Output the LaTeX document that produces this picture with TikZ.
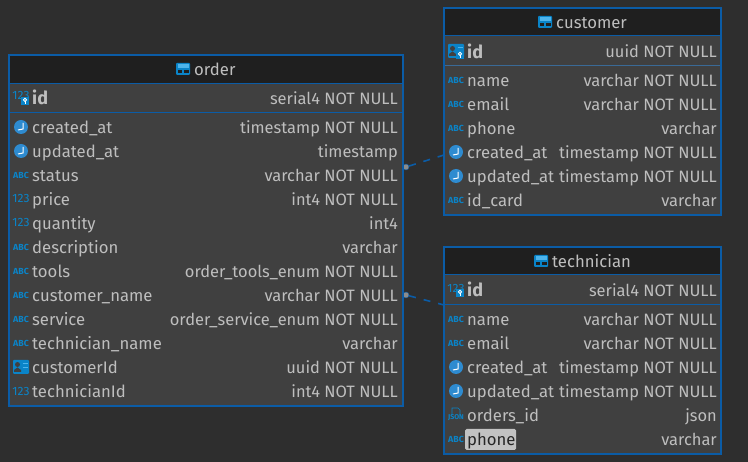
\documentclass[tikz,border=0pt]{standalone}
\usepackage{fontspec}
\setmainfont{Fira Sans}
\definecolor{bgc}{HTML}{2E2E2E}
\definecolor{bodyc}{HTML}{404040}
\definecolor{headc}{HTML}{1F1F1F}
\definecolor{edgec}{HTML}{0B5CA6}
\definecolor{txt}{HTML}{BEBEBE}
\definecolor{icon}{HTML}{0A84C8}
\definecolor{clockc}{HTML}{2E8BD0}
\definecolor{lighticon}{HTML}{4DB4EC}
\definecolor{hl}{HTML}{C2C2C2}
\tikzset{
  tbl/.style={draw=edgec,line width=2pt,fill=bodyc,inner sep=0pt,anchor=north west},
  headbar/.style={fill=headc},
  sep/.style={draw=edgec,line width=1pt},
  lab/.style={text=txt,font=\fontsize{16.7}{16.7}\selectfont,inner sep=0pt,anchor=base west,yshift=-0.7pt},
  pk/.style={lab,font=\fontsize{18}{18}\selectfont\bfseries},
  typ/.style={lab,anchor=base east,font=\fontsize{16.45}{16.45}\selectfont},
  ttl/.style={lab,anchor=base west},
  abc/.style={text=icon,inner sep=0pt,font=\fontsize{8.8}{8.8}\selectfont\bfseries},
  onetwo/.style={text=icon,inner sep=0pt,font=\fontsize{12}{12}\selectfont},
  rel/.style={draw=edgec,line width=1.6pt,dash pattern=on 7pt off 8pt},
  dot/.style={circle,fill=gray!90,draw=edgec,line width=.4pt,inner sep=0pt,minimum size=6pt}
}
\newcommand{\iconAbc}[2]{\node[abc] at (#1,#2) {ABC};}
\newcommand{\iconNum}[2]{\node[onetwo] at (#1,#2) {123};}
\newcommand{\iconClock}[2]{\fill[clockc] (#1,#2) circle[radius=7];
  \draw[white,line width=1pt] (#1+2,#2-4) -- (#1+2,#2+2) -- (#1-3,#2+3);}
\newcommand{\iconKey}[2]{\fill[icon] (#1-4,#2-4) rectangle (#1+4,#2+4);
  \draw[white,line width=.9pt] (#1,#2-1.2) circle[radius=1.6];
  \draw[white,line width=.9pt] (#1,#2+.5) -- (#1,#2+3);}
\newcommand{\iconTable}[2]{\fill[icon,rounded corners=1pt] (#1-7,#2-6) rectangle (#1+7,#2+6);
  \fill[lighticon] (#1-5.5,#2-4.5) rectangle (#1+5.5,#2-.8);
  \fill[headc] (#1-5.5,#2+.8) rectangle (#1-.7,#2+4.5);
  \fill[headc] (#1+.7,#2+.8) rectangle (#1+5.5,#2+4.5);}
\newcommand{\iconCard}[2]{\fill[icon,rounded corners=1pt] (#1-8,#2-7) rectangle (#1+8,#2+7);
  \fill[bodyc] (#1-3.5,#2-2.5) circle[radius=2.5];
  \fill[bodyc] (#1-7,#2+5) -- (#1-7,#2+3) -- (#1-3.5,#2+.5) -- (#1,#2+3) -- (#1,#2+5) -- cycle;
  \draw[lighticon,line width=.9pt] (#1+1.5,#2-3.5) -- (#1+6.5,#2-3.5) (#1+1.5,#2) -- (#1+6.5,#2);}
\newcommand{\iconJson}[2]{\node[text=icon,inner sep=0pt,font=\fontsize{7}{7}\selectfont\bfseries] at (#1,#2+3) {JSON};
  \draw[icon,line width=.7pt] (#1-4,#2) -- (#1-4,#2-7) -- (#1+2,#2-7) -- (#1+4,#2-5) -- (#1+4,#2);}
\begin{document}
\begin{tikzpicture}[x=1pt,y=-1pt]
\useasboundingbox (0,0) rectangle (748,462);
\fill[bgc] (0,0) rectangle (748,462);
% connectors first
\coordinate (custEnd) at (444,155);
\coordinate (techEnd) at (444,305);
\node[dot] (d1) at (406,167) {};
\node[dot] (d2) at (406,295) {};
\draw[rel] (d1) -- (custEnd);
\draw[rel] (d2) -- (techEnd);
% order
\node[tbl,minimum width=394pt,minimum height=351pt] (order) at (7.5,54.5) {};
\fill[headc] (9.5,56) rectangle (401.5,84);
\draw[sep] (9.5,84) -- (401.5,84);
\draw[edgec,line width=1.6pt] (9.5,112.5) -- (401.5,112.5);
\iconTable{183}{69}
\node[ttl] (orderT) at (194,74.5) {order};
\iconNum{21}{96}\iconKey{25}{101}
\node[pk] (o0) at (32,103.5) {id};
\node[typ] at (398,103.5) {serial4 NOT NULL};
\iconClock{21}{127}
\node[lab] at (32,132.5) {created\_at}; \node[typ] at (398,132.5) {timestamp NOT NULL};
\iconClock{21}{151}
\node[lab] at (32,156.5) {updated\_at}; \node[typ] at (398,156.5) {timestamp};
\iconAbc{21}{175}
\node[lab] at (32,180.5) {status}; \node[typ] at (398,180.5) {varchar NOT NULL};
\iconNum{21}{199}
\node[lab] at (32,204.5) {price}; \node[typ] at (398,204.5) {int4 NOT NULL};
\iconNum{21}{223}
\node[lab] at (32,228.5) {quantity}; \node[typ] at (398,228.5) {int4};
\iconAbc{21}{247}
\node[lab] at (32,252.5) {description}; \node[typ] at (398,252.5) {varchar};
\iconAbc{21}{271}
\node[lab] at (32,276.5) {tools}; \node[typ] at (398,276.5) {order\_tools\_enum NOT NULL};
\iconAbc{21}{295}
\node[lab] at (32,300.5) {customer\_name}; \node[typ] at (398,300.5) {varchar NOT NULL};
\iconAbc{21}{319}
\node[lab] at (32,324.5) {service}; \node[typ] at (398,324.5) {order\_service\_enum NOT NULL};
\iconAbc{21}{343}
\node[lab] at (32,348.5) {technician\_name}; \node[typ] at (398,348.5) {varchar};
\iconCard{21}{367}
\node[lab] at (32,372.5) {customerId}; \node[typ] at (398,372.5) {uuid NOT NULL};
\iconNum{21}{391}
\node[lab] at (32,396.5) {technicianId}; \node[typ] at (398,396.5) {int4 NOT NULL};
% customer
\node[tbl,minimum width=277pt,minimum height=207pt] (customer) at (442.5,7.5) {};
\fill[headc] (444.5,9) rectangle (719.5,36);
\draw[sep] (444.5,36) -- (719.5,36);
\draw[edgec!60!gray,line width=.8pt] (444.5,65.5) -- (719.5,65.5);
\iconTable{545}{22}
\node[ttl] at (556,27.5) {customer};
\iconCard{456}{51}\iconKey{460}{55}
\node[pk] at (467,57.5) {id}; \node[typ] at (717,57) {uuid NOT NULL};
\iconAbc{456}{80}
\node[lab] at (467,85.5) {name}; \node[typ] at (717,85.5) {varchar NOT NULL};
\iconAbc{456}{104}
\node[lab] at (467,109.5) {email}; \node[typ] at (717,109.5) {varchar NOT NULL};
\iconAbc{456}{128}
\node[lab] at (467,133.5) {phone}; \node[typ] at (717,133.5) {varchar};
\iconClock{456}{152}
\node[lab] at (467,157.5) {created\_at}; \node[typ] at (717,157.5) {timestamp NOT NULL};
\iconClock{456}{176}
\node[lab] at (467,181.5) {updated\_at}; \node[typ] at (717,181.5) {timestamp NOT NULL};
\iconAbc{456}{200}
\node[lab] at (467,205.5) {id\_card}; \node[typ] at (717,205.5) {varchar};
% technician
\node[tbl,minimum width=277pt,minimum height=207pt] (technician) at (442.5,246.5) {};
\fill[headc] (444.5,248) rectangle (719.5,275);
\draw[sep] (444.5,275) -- (719.5,275);
\draw[edgec,line width=1pt] (444.5,304.5) -- (719.5,304.5);
\iconTable{541}{261}
\node[ttl] at (552,266.5) {technician};
\iconNum{456}{288}\iconKey{460}{293}
\node[pk] at (467,296) {id}; \node[typ] at (717,296) {serial4 NOT NULL};
\iconAbc{456}{319}
\node[lab] at (467,324.5) {name}; \node[typ] at (717,324.5) {varchar NOT NULL};
\iconAbc{456}{343}
\node[lab] at (467,348.5) {email}; \node[typ] at (717,348.5) {varchar NOT NULL};
\iconClock{456}{367}
\node[lab] at (467,372.5) {created\_at}; \node[typ] at (717,372.5) {timestamp NOT NULL};
\iconClock{456}{391}
\node[lab] at (467,396.5) {updated\_at}; \node[typ] at (717,396.5) {timestamp NOT NULL};
\iconJson{456}{415}
\node[lab] at (467,420.5) {orders\_id}; \node[typ] at (717,420.5) {json};
\iconAbc{456}{439}
\fill[hl,rounded corners=1.5pt] (465,429) rectangle (516,450);
\node[lab,text=black!85] at (467,444.5) {phone}; \node[typ] at (717,444.5) {varchar};
\end{tikzpicture}
\end{document}
